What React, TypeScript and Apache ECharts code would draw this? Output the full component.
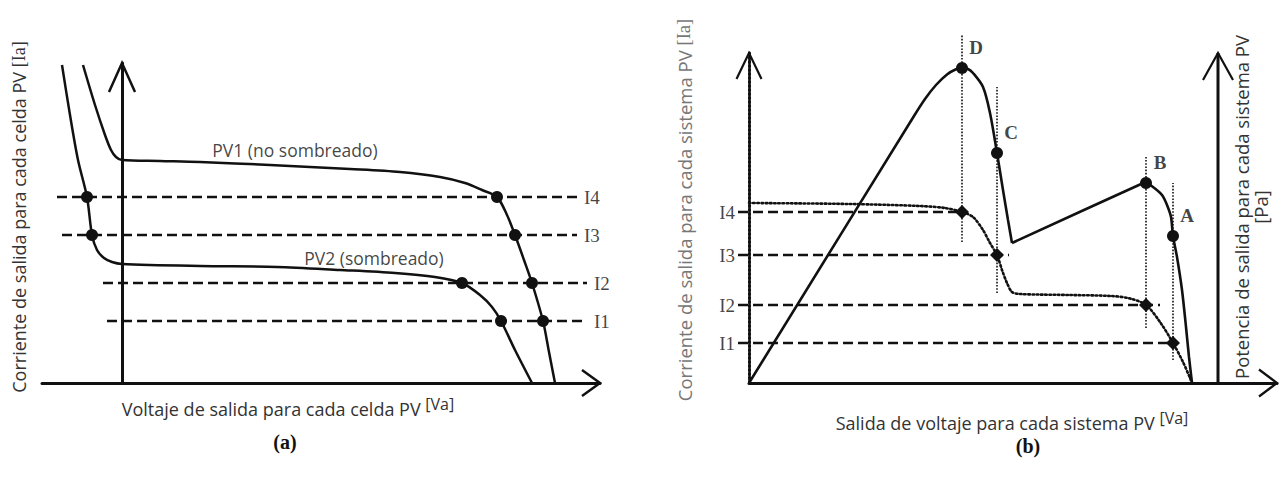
import React, { useEffect, useRef } from "react";
import * as echarts from "echarts";

// ---------------- Panel (a): I-V curve of each PV cell ----------------
// points are [voltage, current] in arbitrary units
const pv1Curve: number[][] = [
  [-7.8, 63.6], [-5.4, 55.6], [-3.4, 49.6], [-2.2, 46.6], [-1.2, 45.2], [0, 44.6],
  [7.6, 44.4], [15.6, 44.2], [29.6, 43.6], [45.6, 42.8], [55.6, 42.2], [63.6, 41.2],
  [68.6, 40], [72, 38.6], [75, 37.2], [77, 33.6], [78.6, 29.6], [80.4, 24.6],
  [82, 20], [84.2, 12.4], [85.4, 6.2], [86.6, 0],
];
const pv2Curve: number[][] = [
  [-12, 63.6], [-10.4, 53.6], [-8.8, 44.6], [-7, 37.2], [-6, 29.6], [-5, 26.6],
  [-3.6, 25], [-2, 24.2], [0, 23.8], [15.6, 23.4], [31, 23.2], [43.6, 22.6],
  [54.6, 22], [62.6, 21.2], [68, 20], [71.6, 17.6], [74, 15.2], [75.8, 12.4],
  [78.6, 6.6], [82, 0],
];
const levelNames = ["I1", "I2", "I3", "I4"];
const levelsA = [12.4, 20, 29.6, 37.2];
const dashFromA = [-3, -3.8, -12, -13];
const dashToA = [93, 93, 91, 91];
const pv1AtLevels = [84.2, 82, 78.6, 75];
const pv2AtLevels = [75.8, 68, -6, -7];

// ---------------- Panel (b): system P-V and I-V ----------------
const powerRise: number[][] = [
  [0, 0], [33, 53.4], [35.2, 56.8], [37.4, 59.6], [39.6, 61.7], [41.3, 62.7],
  [42.6, 63], [43.8, 62.8], [44.8, 62], [46.8, 59.2], [48.2, 54], [49.6, 46],
  [50.8, 38.6], [51.8, 32.6], [52.6, 28],
];
const powerSecond: number[][] = [
  [52.6, 28], [78.2, 39.7], [79.4, 40], [80.8, 39.2], [82.6, 37.6], [83.6, 35.6],
  [84.4, 33.2], [84.8, 29.4], [85.6, 25.2], [86.6, 18.6], [87.4, 11.2], [88, 5.2],
  [88.6, 0],
];
const systemCurrent: number[][] = [
  [0, 36], [20.2, 35.8], [34.2, 35.4], [39.2, 35], [42.6, 34.2], [44.8, 33.2],
  [46.8, 30.6], [48.2, 28], [49.6, 25.6], [50.6, 22.6], [51.6, 20], [52.6, 18.2],
  [54.2, 17.8], [64.2, 17.6], [72.4, 17.4], [76.2, 16.9], [79.4, 15.6], [82.2, 12.2],
  [84.8, 8], [86.8, 4.2], [88.2, 1], [88.6, 0],
];
const pointNames = ["A", "B", "C", "D"];
const pointVoltage = [84.8, 79.4, 49.6, 42.6];
const pointPower = [29.4, 40, 46, 63];
const levelsB = [8, 15.6, 25.6, 34.2];
const dashFromB = -2.2;
const dashToB = [85.6, 82.2, 52, 42.6];
const guideTop = [40, 45.2, 59.2, 69.6];
const guideBottom = [4.6, 11, 18, 28.2];
const powerAxisVoltage = 93.8;

// axis extents
const XA_MIN = -16, XA_MAX = 95.6, YA_MAX = 64;
const XB_MAX = 105.6, YB_MAX = 66;

const INK = "#111";
const SANS = '"Open Sans", "Noto Sans", sans-serif';
const SERIF = '"Liberation Serif", "DejaVu Serif", serif';

function linesSeries(g: number, polylines: number[][][], lineStyle: any, z = 2) {
  return {
    type: "lines",
    coordinateSystem: "cartesian2d",
    xAxisIndex: g,
    yAxisIndex: g,
    polyline: true,
    clip: false,
    silent: true,
    z,
    lineStyle: { color: INK, opacity: 1, curveness: 0, ...lineStyle },
    data: polylines.map((c) => ({ coords: c })),
  };
}
function curve(g: number, data: number[][], lineStyle: any, smooth: number) {
  return {
    type: "line",
    xAxisIndex: g,
    yAxisIndex: g,
    data,
    symbol: "none",
    showSymbol: false,
    smooth,
    clip: false,
    silent: true,
    z: 3,
    lineStyle: { color: INK, ...lineStyle },
  };
}
function dots(g: number, data: number[][], symbol: string, size: number) {
  return {
    type: "scatter",
    xAxisIndex: g,
    yAxisIndex: g,
    data,
    symbol,
    symbolSize: size,
    clip: false,
    silent: true,
    z: 5,
    itemStyle: { color: INK, opacity: 1 },
  };
}
function labels(g: number, data: any[], label: any) {
  return {
    type: "scatter",
    xAxisIndex: g,
    yAxisIndex: g,
    data,
    symbolSize: 0.01,
    clip: false,
    silent: true,
    z: 6,
    itemStyle: { color: "rgba(0,0,0,0)" },
    label: { show: true, color: INK, formatter: (p: any) => p.name, ...label },
  };
}

function buildOption() {
  const hiddenAxisBits = {
    axisTick: { show: false },
    axisLabel: { show: false },
    splitLine: { show: false },
  };
  const series: any[] = [];

  // ---- panel (a) ----
  series.push(
    linesSeries(0, [
      [[XA_MAX - 3.6, 2.6], [XA_MAX, 0], [XA_MAX - 3.6, -2.6]],
      [[-2.6, YA_MAX - 5.8], [0, YA_MAX], [2.6, YA_MAX - 5.8]],
    ], { width: 2.5 })
  );
  series.push(
    linesSeries(0, levelsA.map((l, i) => [[dashFromA[i], l], [dashToA[i], l]]), {
      width: 2.5,
      type: [10, 5],
    })
  );
  series.push(curve(0, pv1Curve, { width: 2.5 }, 0.3));
  series.push(curve(0, pv2Curve, { width: 2.5 }, 0.3));
  series.push(dots(0, levelsA.map((l, i) => [pv1AtLevels[i], l]), "circle", 12));
  series.push(dots(0, levelsA.map((l, i) => [pv2AtLevels[i], l]), "circle", 12));
  series.push(
    labels(
      0,
      levelsA.map((l, i) => ({ name: levelNames[i], value: [dashToA[i], l] })),
      { position: "right", distance: 7, fontFamily: SERIF, fontSize: 19 }
    )
  );
  series.push(
    labels(
      0,
      [
        { name: "PV1 (no sombreado)", value: [34.6, 46.6] },
        { name: "PV2 (sombreado)", value: [50.4, 25] },
      ],
      { position: "inside", fontFamily: SANS, fontSize: 17.5 }
    )
  );

  // ---- panel (b) ----
  series.push(
    linesSeries(1, [
      [[XB_MAX - 3.6, 2.7], [XB_MAX, 0], [XB_MAX - 3.6, -2.7]],
      [[-2.5, YB_MAX - 5.2], [0, YB_MAX], [2.5, YB_MAX - 5.2]],
      [[powerAxisVoltage - 3, YB_MAX - 5.4], [powerAxisVoltage, YB_MAX], [powerAxisVoltage + 3, YB_MAX - 5.4]],
    ], { width: 2.2 })
  );
  series.push(
    linesSeries(1, [[[powerAxisVoltage, 0], [powerAxisVoltage, YB_MAX]]], { width: 3 })
  );
  series.push(
    linesSeries(1, levelsB.map((l, i) => [[dashFromB, l], [dashToB[i], l]]), {
      width: 2.5,
      type: [10, 5],
    })
  );
  series.push(
    linesSeries(
      1,
      pointVoltage.map((v, i) => [[v, guideBottom[i]], [v, guideTop[i]]]),
      { width: 1.6, type: [1.6, 1.6] },
      1
    )
  );
  series.push(curve(1, systemCurrent, { width: 2.6, type: [1.6, 2.6], cap: "round" }, 0.3));
  series.push(curve(1, powerRise, { width: 2.6 }, 0.3));
  series.push(curve(1, powerSecond, { width: 2.6 }, 0.3));
  series.push(dots(1, pointVoltage.map((v, i) => [v, pointPower[i]]), "circle", 12));
  series.push(dots(1, pointVoltage.map((v, i) => [v, levelsB[i]]), "diamond", 14));
  series.push(
    labels(
      1,
      pointVoltage.map((v, i) => ({ name: pointNames[i], value: [v, pointPower[i]] })),
      {
        position: "inside",
        offset: [14, -21],
        fontFamily: SERIF,
        fontWeight: "bold",
        fontSize: 19,
      }
    )
  );
  series.push(
    labels(
      1,
      levelsB.map((l, i) => ({ name: levelNames[i], value: [dashFromB, l] })),
      { position: "left", distance: 3, fontFamily: SERIF, fontSize: 19 }
    )
  );

  const xTitleRich = {
    a: { fontFamily: SANS, fontSize: 18, fill: "#333", lineHeight: 22, verticalAlign: "bottom" },
    b: { fontFamily: SANS, fontSize: 16, fill: "#333", lineHeight: 22, verticalAlign: "top" },
  };

  return {
    animation: false,
    backgroundColor: "#ffffff",
    grid: [
      { left: 42, top: 63, width: 558, height: 320, containLabel: false, outerBoundsMode: "none" },
      { left: 749, top: 53, width: 528, height: 330, containLabel: false, outerBoundsMode: "none" },
    ],
    xAxis: [
      {
        gridIndex: 0, type: "value", min: XA_MIN, max: XA_MAX,
        axisLine: { show: true, onZero: false, lineStyle: { color: INK, width: 3 } },
        ...hiddenAxisBits,
      },
      {
        gridIndex: 1, type: "value", min: 0, max: XB_MAX,
        axisLine: { show: true, onZero: false, lineStyle: { color: INK, width: 3 } },
        ...hiddenAxisBits,
      },
    ],
    yAxis: [
      {
        gridIndex: 0, type: "value", min: 0, max: YA_MAX,
        axisLine: { show: true, onZero: true, lineStyle: { color: INK, width: 3 } },
        ...hiddenAxisBits,
      },
      {
        gridIndex: 1, type: "value", min: 0, max: YB_MAX,
        axisLine: { show: true, onZero: true, lineStyle: { color: INK, width: 3, type: [2, 2] } },
        ...hiddenAxisBits,
      },
    ],
    graphic: [
      {
        type: "text", x: 19, y: 217, rotation: Math.PI / 2,
        style: {
          text: "{a|Corriente de salida para cada celda PV }{b|[Ia]}",
          textAlign: "center", textVerticalAlign: "middle",
          rich: {
            a: { fontFamily: SANS, fontSize: 18, fill: "#333" },
            b: { fontFamily: SERIF, fontSize: 18, fill: "#333" },
          },
        },
      },
      {
        type: "text", x: 288, y: 407,
        style: {
          text: "{a|Voltaje de salida para cada celda PV }{b|[Va]}",
          textAlign: "center", textVerticalAlign: "middle",
          rich: xTitleRich,
        },
      },
      {
        type: "text", x: 285, y: 442,
        style: {
          text: "(a)", font: `bold 20px ${SERIF}`, fill: INK,
          textAlign: "center", textVerticalAlign: "middle",
        },
      },
      {
        type: "text", x: 684, y: 210, rotation: Math.PI / 2,
        style: {
          text: "{a|Corriente de salida para cada sistema PV }{b|[Ia]}",
          textAlign: "center", textVerticalAlign: "middle",
          rich: {
            a: { fontFamily: SANS, fontSize: 18.5, fill: "#777" },
            b: { fontFamily: SERIF, fontSize: 18.5, fill: "#777" },
          },
        },
      },
      {
        type: "text", x: 1251, y: 207, rotation: Math.PI / 2,
        style: {
          text: "Potencia de salida para cada sistema PV\n[Pa]",
          font: `18.5px ${SANS}`, fill: "#333", lineHeight: 19,
          textAlign: "center", textVerticalAlign: "middle",
        },
      },
      {
        type: "text", x: 1012, y: 421,
        style: {
          text: "{a|Salida de voltaje para cada sistema PV }{b|[Va]}",
          textAlign: "center", textVerticalAlign: "middle",
          rich: xTitleRich,
        },
      },
      {
        type: "text", x: 1028, y: 446,
        style: {
          text: "(b)", font: `bold 20px ${SERIF}`, fill: INK,
          textAlign: "center", textVerticalAlign: "middle",
        },
      },
    ],
    series,
  };
}

export default function App() {
  const ref = useRef<HTMLDivElement>(null);
  useEffect(() => {
    if (!ref.current) return;
    const chart = echarts.init(ref.current, undefined, { renderer: "svg" });
    chart.setOption(buildOption() as any);
    return () => chart.dispose();
  }, []);
  return (
    <div
      ref={ref}
      style={{ position: "fixed", left: 0, top: 0, width: 1280, height: 481, background: "#fff" }}
    />
  );
}
